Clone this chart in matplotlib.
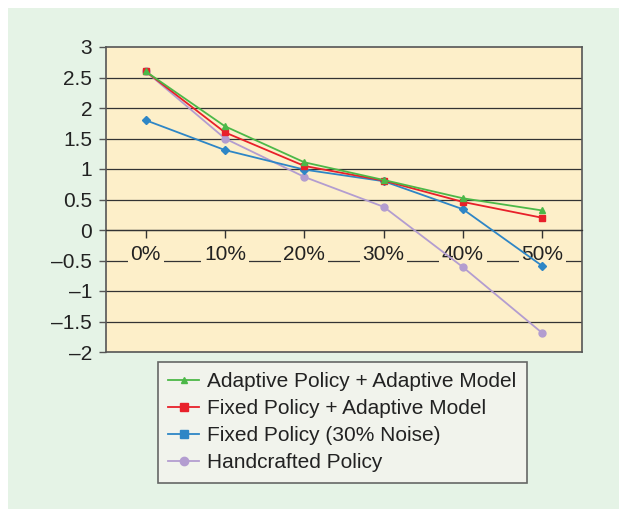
import matplotlib.pyplot as plt
from matplotlib.lines import Line2D
from matplotlib.patches import Rectangle

plt.rcParams['font.family'] = ['Liberation Sans', 'DejaVu Sans']

noise_levels = ['0%', '10%', '20%', '30%', '40%', '50%']
adaptive_adaptive = [2.6, 1.7, 1.11, 0.82, 0.52, 0.32]
fixed_adaptive = [2.6, 1.6, 1.05, 0.81, 0.46, 0.2]
fixed_noise = [1.8, 1.31, 0.99, 0.8, 0.34, -0.59]
handcrafted = [2.6, 1.5, 0.87, 0.38, -0.61, -1.69]

y_ticks = [3, 2.5, 2, 1.5, 1, 0.5, 0, -0.5, -1, -1.5, -2]

fig = plt.figure(figsize=(6.19, 5.09), dpi=100)
fig.patch.set_facecolor('white')
fig.patches.append(Rectangle((8 / 619, 0), 1, 1 - 8 / 509, transform=fig.transFigure,
                             facecolor='#e5f3e6', edgecolor='none', zorder=-10))

ax = fig.add_axes([106 / 619, 157 / 509, 476 / 619, 305 / 509])
ax.set_facecolor('#fdefc9')

x = list(range(len(noise_levels)))
series = [
    ('Adaptive Policy + Adaptive Model', adaptive_adaptive, '#4cb848', '^', 5, '^', 5),
    ('Fixed Policy + Adaptive Model', fixed_adaptive, '#e8202a', 's', 5, 's', 6),
    ('Fixed Policy (30% Noise)', fixed_noise, '#2e86c6', 'D', 4, 's', 6),
    ('Handcrafted Policy', handcrafted, '#b39dd0', 'o', 5, 'o', 6),
]
for label, vals, color, marker, ms, lm, lms in reversed(series):
    ax.plot(x, vals, color=color, marker=marker, markersize=ms, linewidth=1.3, zorder=3)
handles = [Line2D([], [], color=color, marker=lm, markersize=lms, linewidth=1.3, label=label)
           for label, vals, color, marker, ms, lm, lms in series]

ax.set_xlim(-0.5, 5.5)
ax.set_ylim(-2, 3)
ax.set_yticks(y_ticks)
ax.set_yticklabels([f'{t:g}'.replace('-', '\u2013') for t in y_ticks], fontsize=15, color='#222222')
ax.tick_params(axis='y', direction='out', length=5, width=1, color='#555555', pad=5)

for t in y_ticks[1:-1]:
    ax.axhline(t, color='#333333', linewidth=0.9, zorder=1)

for side in ['top', 'right', 'left']:
    ax.spines[side].set_color('#555555')
    ax.spines[side].set_linewidth(1.2)
ax.spines['bottom'].set_position(('data', 0))
ax.spines['bottom'].set_color('#333333')
ax.spines['bottom'].set_linewidth(0.9)
ax.axhline(-2, color='#555555', linewidth=1.2, clip_on=False, zorder=4)

ax.set_xticks(x)
ax.set_xticklabels(noise_levels, fontsize=15, color='#222222')
ax.tick_params(axis='x', direction='out', length=6, width=1, color='#333333', pad=5)
for lbl in ax.get_xticklabels():
    lbl.set_bbox(dict(facecolor='#fdefc9', edgecolor='none', pad=2))

leg = fig.legend(handles=handles, loc='upper left', bbox_to_anchor=(158 / 619, 1 - 362 / 509),
                 borderaxespad=0, fontsize=15, frameon=True, fancybox=False, handlelength=1.45,
                 handletextpad=0.4, borderpad=0.5, labelspacing=0.38)
leg.get_frame().set_facecolor('#f5f4ee')
leg.get_frame().set_edgecolor('#444444')
leg.get_frame().set_linewidth(1.2)
for txt in leg.get_texts():
    txt.set_color('#222222')

fig.savefig('out.png', dpi=100)
